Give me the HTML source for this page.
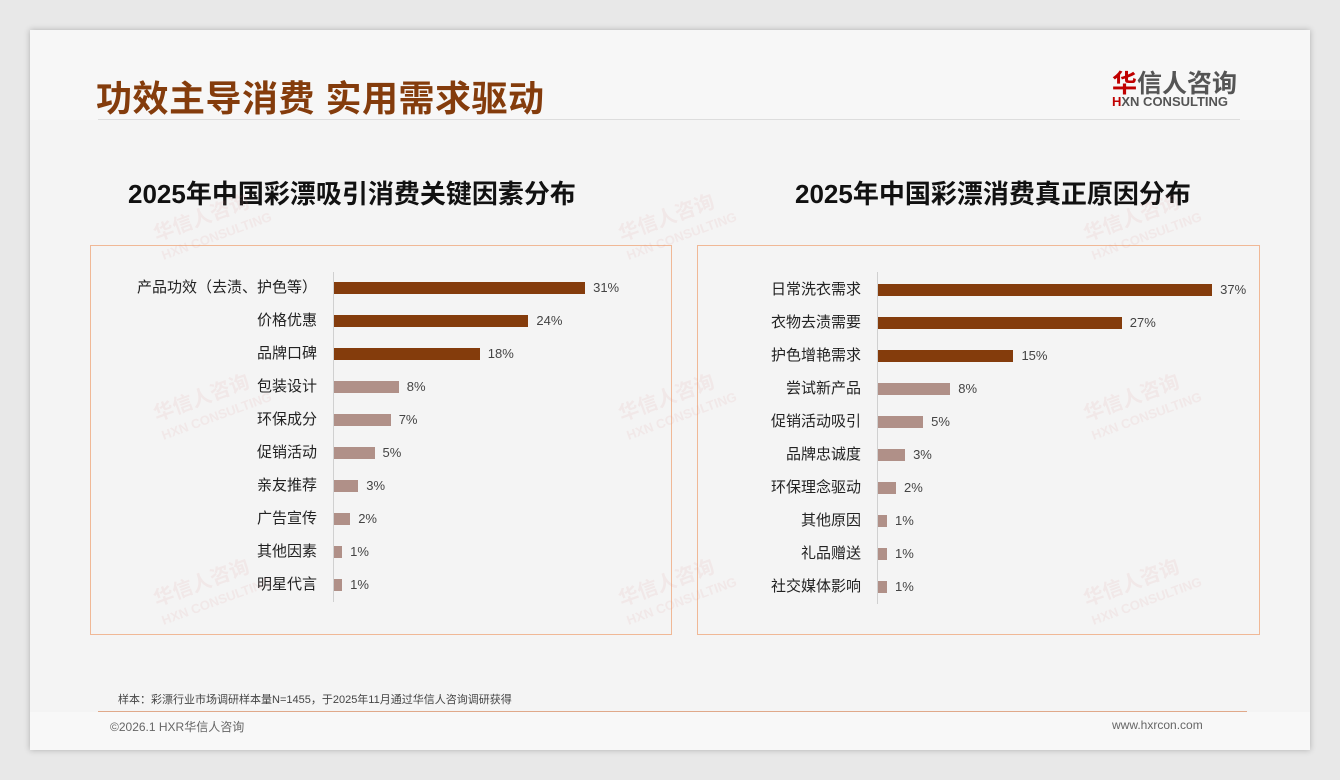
<!DOCTYPE html><html><head><meta charset="utf-8"><style>
body{margin:0;width:1340px;height:780px;background:#e8e8e8;font-family:"Liberation Sans","Noto Sans CJK SC",sans-serif;position:relative;overflow:hidden}
.card{position:absolute;left:30px;top:30px;width:1280px;height:720px;background:#f4f4f4;box-shadow:0 0 6px rgba(0,0,0,.25)}
.a{position:absolute;white-space:nowrap}
.box{position:absolute;border:1px solid #f0b896}
.lab{position:absolute;font-size:15px;color:#222;text-align:right;width:240px;line-height:16px}
.bar{position:absolute;height:12px}
.val{position:absolute;font-size:13px;color:#444;line-height:14px}
.wm{position:absolute;color:rgba(220,150,150,.12);font-weight:bold;transform:rotate(-20deg);font-size:20px;line-height:20px}
</style></head><body>
<div class="card"></div>
<div class="a" style="left:30px;top:30px;width:1280px;height:90px;background:#f7f7f7"></div>
<div class="a" style="left:96px;top:70px;font-size:36px;font-weight:bold;color:#843c0c;letter-spacing:0.5px">功效主导消费 实用需求驱动</div>
<div class="a" style="left:98px;top:119px;width:1142px;height:1px;background:#ddd"></div>
<div class="a" style="left:1112px;top:64px;font-size:25px;font-weight:bold;color:#555"><span style="color:#c00000">华</span>信人咨询</div>
<div class="a" style="left:1112px;top:94px;font-size:13px;font-weight:bold;color:#555"><span style="color:#c00000">H</span>XN CONSULTING</div>
<div class="a" style="left:128px;top:174px;font-size:26px;font-weight:bold;color:#111">2025年中国彩漂吸引消费关键因素分布</div>
<div class="a" style="left:795px;top:174px;font-size:26px;font-weight:bold;color:#111">2025年中国彩漂消费真正原因分布</div>
<div class="box" style="left:90px;top:245px;width:580px;height:388px"></div>
<div class="box" style="left:697px;top:245px;width:561px;height:388px"></div>
<div class="a" style="left:333px;top:272px;width:1px;height:330px;background:#d0d0d0"></div>
<div class="a" style="left:877px;top:272px;width:1px;height:332px;background:#d0d0d0"></div>
<div id="c"></div>
<div class="a" style="left:98px;top:711px;width:1149px;height:1px;background:#e0a98a"></div>
<div class="a" style="left:30px;top:712px;width:1280px;height:38px;background:#f8f8f8"></div>
<div class="a" style="left:118px;top:691px;font-size:11px;color:#444">样本：彩漂行业市场调研样本量N=1455，于2025年11月通过华信人咨询调研获得</div>
<div class="a" style="left:110px;top:718px;font-size:12px;color:#666">©2026.1 HXR华信人咨询</div>
<div class="a" style="left:1112px;top:718px;font-size:12px;color:#666">www.hxrcon.com</div>
<script>
var h='';
function ch(data,ax,y0,sc){data.forEach(function(d,i){var y=y0+i*33;var c=i<3?'#843c0c':'#b09088';
h+='<div class="lab" style="left:'+(ax-256)+'px;top:'+(y-8)+'px">'+d[0]+'</div>';
h+='<div class="bar" style="left:'+(ax+1)+'px;top:'+(y-6)+'px;width:'+(d[1]*sc)+'px;background:'+c+'"></div>';
h+='<div class="val" style="left:'+(ax+9+d[1]*sc)+'px;top:'+(y-7)+'px">'+d[1]+'%</div>';});}
ch([["产品功效（去渍、护色等）",31],["价格优惠",24],["品牌口碑",18],["包装设计",8],["环保成分",7],["促销活动",5],["亲友推荐",3],["广告宣传",2],["其他因素",1],["明星代言",1]],333,288,8.1);
ch([["日常洗衣需求",37],["衣物去渍需要",27],["护色增艳需求",15],["尝试新产品",8],["促销活动吸引",5],["品牌忠诚度",3],["环保理念驱动",2],["其他原因",1],["礼品赠送",1],["社交媒体影响",1]],877,290,9.03);
[[155,205],[620,205],[1085,205],[155,385],[620,385],[1085,385],[155,570],[620,570],[1085,570]].forEach(function(p){h+='<div class="wm" style="left:'+p[0]+'px;top:'+p[1]+'px">华信人咨询<br><span style="font-size:13px">HXN CONSULTING</span></div>';});
document.getElementById('c').innerHTML=h;
</script>
</body></html>
